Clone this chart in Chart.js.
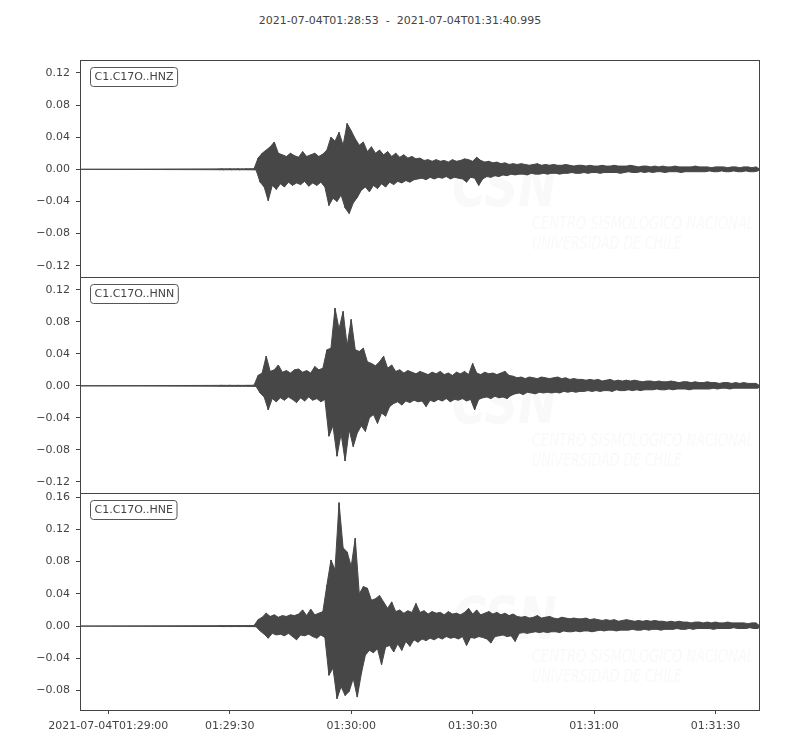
<!DOCTYPE html>
<html>
<head>
<meta charset="utf-8">
<script src="https://cdn.jsdelivr.net/npm/chart.js@4.4.0/dist/chart.umd.min.js"></script>
<style>
  html, body { margin: 0; padding: 0; background: #fff; }
  body { width: 800px; height: 750px; position: relative; overflow: hidden; font-family: "DejaVu Sans", sans-serif; }
  #title { position: absolute; top: 14px; left: 0; width: 800px; text-align: center; font-size: 11px; color: #444; white-space: pre; }
  .panel { position: absolute; left: 0; width: 800px; }
</style>
</head>
<body>
<div id="title">2021-07-04T01:28:53  -  2021-07-04T01:31:40.995</div>
<div class="panel" style="top:58px;height:221px"><canvas id="hnz"></canvas></div>
<div class="panel" style="top:275px;height:220px"><canvas id="hnn"></canvas></div>
<div class="panel" style="top:491px;height:259px"><canvas id="hne"></canvas></div>
<script>
// seconds after 01:28:53; envelope peaks read every second from t = 34 s
const T_START = 0;
const T_END = 167.995;
const ENV_START = 34;

const X_TICKS = [7, 37, 67, 97, 127, 157];
const X_LABELS = ['2021-07-04T01:29:00', '01:29:30', '01:30:00', '01:30:30', '01:31:00', '01:31:30'];

const HNZ_TICKS = [-0.12, -0.08, -0.04, 0, 0.04, 0.08, 0.12];
const HNN_TICKS = [-0.12, -0.08, -0.04, 0, 0.04, 0.08, 0.12];
const HNE_TICKS = [-0.08, -0.04, 0, 0.04, 0.08, 0.12, 0.16];

const HNZ_UP = [0.0005,0.0006,0.0005,0.0006,0.0005,0.0006,0.0005,0.0006,0.0006,0.0008,
 0.014,0.02,0.024,0.028,0.034,0.02,0.018,0.016,0.02,0.017,
 0.015,0.022,0.016,0.018,0.02,0.016,0.019,0.024,0.04,0.035,
 0.046,0.03,0.057,0.048,0.038,0.03,0.034,0.022,0.028,0.02,
 0.024,0.018,0.022,0.016,0.02,0.015,0.018,0.014,0.016,0.013,
 0.014,0.011,0.012,0.01,0.012,0.01,0.011,0.009,0.012,0.01,
 0.011,0.013,0.012,0.01,0.015,0.011,0.009,0.01,0.008,0.009,
 0.007,0.008,0.006,0.007,0.006,0.007,0.006,0.005,0.006,0.007,
 0.005,0.006,0.005,0.006,0.005,0.005,0.006,0.005,0.004,0.005,
 0.005,0.004,0.005,0.004,0.004,0.005,0.004,0.004,0.005,0.004,
 0.004,0.004,0.005,0.004,0.003,0.004,0.004,0.003,0.004,0.003,
 0.004,0.003,0.003,0.004,0.003,0.003,0.003,0.003,0.004,0.003,
 0.003,0.003,0.002,0.003,0.003,0.003,0.002,0.003,0.003,0.002,
 0.003,0.003,0.002,0.003];
const HNZ_LO = [-0.0005,-0.0006,-0.0005,-0.0006,-0.0005,-0.0006,-0.0005,-0.0006,-0.0006,-0.0008,
 -0.016,-0.022,-0.039,-0.02,-0.025,-0.018,-0.022,-0.016,-0.02,-0.017,
 -0.019,-0.015,-0.021,-0.017,-0.02,-0.016,-0.022,-0.045,-0.036,-0.04,
 -0.032,-0.048,-0.055,-0.042,-0.035,-0.026,-0.022,-0.028,-0.02,-0.024,
 -0.018,-0.022,-0.016,-0.019,-0.015,-0.017,-0.014,-0.016,-0.013,-0.012,
 -0.011,-0.013,-0.01,-0.012,-0.01,-0.011,-0.009,-0.012,-0.01,-0.011,
 -0.012,-0.016,-0.01,-0.011,-0.02,-0.012,-0.009,-0.01,-0.008,-0.009,
 -0.007,-0.008,-0.006,-0.007,-0.006,-0.006,-0.007,-0.005,-0.006,-0.006,
 -0.005,-0.006,-0.005,-0.005,-0.006,-0.005,-0.005,-0.004,-0.005,-0.005,
 -0.004,-0.005,-0.004,-0.004,-0.005,-0.004,-0.004,-0.004,-0.004,-0.005,
 -0.004,-0.003,-0.004,-0.004,-0.003,-0.004,-0.003,-0.004,-0.003,-0.003,
 -0.004,-0.003,-0.003,-0.003,-0.004,-0.003,-0.003,-0.003,-0.003,-0.003,
 -0.003,-0.002,-0.003,-0.003,-0.002,-0.003,-0.003,-0.002,-0.003,-0.003,
 -0.002,-0.003,-0.003,-0.002];

const HNN_UP = [0.0005,0.0006,0.0005,0.0006,0.0005,0.0006,0.0005,0.0006,0.0006,0.0008,
 0.013,0.016,0.037,0.018,0.02,0.026,0.017,0.019,0.016,0.02,
 0.021,0.017,0.019,0.016,0.024,0.02,0.022,0.045,0.047,0.097,
 0.071,0.093,0.05,0.083,0.045,0.043,0.047,0.03,0.028,0.025,
 0.03,0.037,0.022,0.026,0.018,0.02,0.016,0.019,0.017,0.015,
 0.018,0.016,0.014,0.017,0.015,0.018,0.014,0.016,0.013,0.017,
 0.015,0.018,0.014,0.028,0.016,0.014,0.017,0.015,0.016,0.014,
 0.016,0.018,0.013,0.012,0.01,0.011,0.009,0.011,0.01,0.009,
 0.011,0.01,0.009,0.01,0.011,0.009,0.01,0.008,0.009,0.008,
 0.008,0.007,0.008,0.007,0.008,0.006,0.007,0.008,0.006,0.007,
 0.006,0.007,0.006,0.007,0.006,0.005,0.006,0.006,0.005,0.006,
 0.005,0.005,0.006,0.005,0.004,0.005,0.005,0.004,0.005,0.004,
 0.004,0.005,0.004,0.004,0.003,0.004,0.004,0.003,0.004,0.003,
 0.004,0.003,0.003,0.003];
const HNN_LO = [-0.0005,-0.0006,-0.0005,-0.0006,-0.0005,-0.0006,-0.0005,-0.0006,-0.0006,-0.0008,
 -0.009,-0.014,-0.03,-0.016,-0.02,-0.015,-0.018,-0.014,-0.017,-0.021,
 -0.015,-0.019,-0.014,-0.018,-0.016,-0.02,-0.017,-0.063,-0.05,-0.088,
 -0.06,-0.094,-0.055,-0.076,-0.059,-0.05,-0.057,-0.04,-0.036,-0.047,
 -0.034,-0.038,-0.026,-0.022,-0.02,-0.024,-0.019,-0.021,-0.018,-0.02,
 -0.019,-0.026,-0.018,-0.02,-0.017,-0.019,-0.016,-0.02,-0.017,-0.018,
 -0.016,-0.019,-0.017,-0.03,-0.017,-0.015,-0.014,-0.016,-0.013,-0.015,
 -0.014,-0.016,-0.012,-0.01,-0.009,-0.011,-0.008,-0.009,-0.01,-0.008,
 -0.009,-0.008,-0.009,-0.008,-0.009,-0.007,-0.008,-0.007,-0.008,-0.007,
 -0.007,-0.006,-0.007,-0.006,-0.007,-0.006,-0.006,-0.007,-0.005,-0.006,
 -0.006,-0.005,-0.006,-0.005,-0.006,-0.005,-0.005,-0.005,-0.004,-0.005,
 -0.005,-0.004,-0.005,-0.004,-0.004,-0.004,-0.005,-0.004,-0.004,-0.004,
 -0.004,-0.004,-0.003,-0.004,-0.003,-0.003,-0.004,-0.003,-0.003,-0.003,
 -0.003,-0.003,-0.003,-0.003];

const HNE_UP = [0.0005,0.0006,0.0005,0.0006,0.0005,0.0006,0.0005,0.0006,0.0006,0.0008,
 0.008,0.011,0.016,0.012,0.014,0.011,0.013,0.012,0.014,0.013,
 0.015,0.02,0.013,0.021,0.014,0.016,0.018,0.051,0.082,0.07,
 0.153,0.097,0.092,0.074,0.109,0.04,0.049,0.047,0.032,0.034,
 0.038,0.03,0.022,0.03,0.018,0.02,0.016,0.019,0.017,0.028,
 0.017,0.019,0.015,0.018,0.016,0.017,0.014,0.018,0.015,0.016,
 0.014,0.017,0.022,0.015,0.02,0.014,0.016,0.018,0.015,0.017,
 0.014,0.016,0.013,0.015,0.012,0.011,0.012,0.01,0.011,0.013,
 0.01,0.011,0.012,0.01,0.009,0.011,0.01,0.009,0.01,0.009,
 0.009,0.01,0.008,0.009,0.008,0.007,0.008,0.007,0.008,0.006,
 0.007,0.008,0.007,0.006,0.007,0.006,0.007,0.006,0.007,0.006,
 0.006,0.005,0.006,0.005,0.006,0.005,0.005,0.004,0.005,0.005,
 0.004,0.005,0.004,0.005,0.004,0.004,0.005,0.004,0.004,0.004,
 0.004,0.003,0.004,0.004];
const HNE_LO = [-0.0005,-0.0006,-0.0005,-0.0006,-0.0005,-0.0006,-0.0005,-0.0006,-0.0006,-0.0008,
 -0.006,-0.01,-0.015,-0.009,-0.011,-0.01,-0.012,-0.009,-0.013,-0.017,
 -0.011,-0.012,-0.01,-0.013,-0.015,-0.011,-0.014,-0.061,-0.052,-0.09,
 -0.075,-0.086,-0.081,-0.065,-0.088,-0.059,-0.036,-0.03,-0.033,-0.028,
 -0.048,-0.026,-0.024,-0.032,-0.022,-0.03,-0.019,-0.025,-0.017,-0.02,
 -0.016,-0.018,-0.015,-0.017,-0.014,-0.016,-0.013,-0.015,-0.014,-0.016,
 -0.013,-0.024,-0.014,-0.015,-0.013,-0.014,-0.016,-0.021,-0.013,-0.012,
 -0.011,-0.013,-0.012,-0.019,-0.009,-0.008,-0.009,-0.008,-0.007,-0.008,
 -0.007,-0.008,-0.007,-0.007,-0.008,-0.006,-0.007,-0.007,-0.006,-0.007,
 -0.006,-0.006,-0.007,-0.006,-0.005,-0.006,-0.005,-0.005,-0.006,-0.005,
 -0.005,-0.005,-0.004,-0.005,-0.005,-0.004,-0.005,-0.004,-0.004,-0.005,
 -0.004,-0.004,-0.004,-0.003,-0.004,-0.004,-0.003,-0.004,-0.003,-0.003,
 -0.003,-0.003,-0.004,-0.003,-0.003,-0.003,-0.003,-0.002,-0.003,-0.003,
 -0.003,-0.002,-0.003,-0.003];

const INK = '#444444';
const TRACE = '#474747';

// upper peaks on whole seconds, lower peaks half a second later; flat before the event
function upperLine(up) {
    const pts = [{ x: T_START, y: 0 }];
    up.forEach((v, i) => pts.push({ x: ENV_START + i, y: v }));
    pts.push({ x: T_END, y: 0 });
    return pts;
}
function lowerLine(lo) {
    const pts = [{ x: T_START, y: 0 }];
    lo.forEach((v, i) => pts.push({ x: ENV_START + i + 0.5, y: v }));
    pts.push({ x: T_END, y: 0 });
    return pts;
}
function zigzag(up, lo) {
    const pts = [];
    up.forEach((v, i) => {
        pts.push({ x: ENV_START + i, y: v });
        pts.push({ x: ENV_START + i + 0.5, y: lo[i] });
    });
    return pts;
}

const fmtY = v => (v < 0 ? '\u2212' : '') + Math.abs(v).toFixed(2);

const framePlugin = {
    id: 'frame',
    beforeDatasetsDraw(chart) {
        // faint CSN watermark
        const { ctx, chartArea: a } = chart;
        ctx.save();
        ctx.fillStyle = '#f9f9f9';
        ctx.font = 'italic bold 58px "DejaVu Sans"';
        ctx.fillText('CSN', a.left + 372, a.top + 146, 105);
        ctx.font = 'italic 17px "DejaVu Sans"';
        ctx.fillText('CENTRO SISMOLÓGICO NACIONAL', a.left + 452, a.top + 169, 222);
        ctx.fillText('UNIVERSIDAD DE CHILE', a.left + 452, a.top + 189, 150);
        ctx.restore();
    },
    afterDraw(chart, args, opts) {
        const { ctx, chartArea: a } = chart;
        ctx.save();
        ctx.strokeStyle = INK;
        ctx.lineWidth = 1;
        ctx.strokeRect(a.left + 0.5, a.top + 0.5, a.right - a.left - 1, a.bottom - a.top);
        // station label box
        ctx.font = '11px "DejaVu Sans"';
        const w = ctx.measureText(opts.label).width + 8;
        const bx = a.left + 10.5, by = a.top + 7.5, bh = 19;
        ctx.beginPath();
        ctx.roundRect(bx, by, w, bh, 3);
        ctx.fillStyle = '#fff';
        ctx.fill();
        ctx.strokeStyle = '#555';
        ctx.stroke();
        ctx.fillStyle = INK;
        ctx.textBaseline = 'middle';
        ctx.fillText(opts.label, bx + 4, by + bh / 2 + 0.5);
        ctx.restore();
    }
};

function createTraceChart(id, label, up, lo, yMin, yMax, yTicks, showX) {
    const ctx = document.getElementById(id).getContext('2d');
    return new Chart(ctx, {
        type: 'line',
        data: {
            datasets: [{
                data: upperLine(up),
                borderColor: TRACE, backgroundColor: TRACE,
                borderWidth: 1, pointRadius: 0, tension: 0,
                fill: '+1'
            }, {
                data: lowerLine(lo),
                borderColor: TRACE,
                borderWidth: 1, pointRadius: 0, tension: 0,
                fill: false
            }, {
                data: zigzag(up, lo),
                borderColor: TRACE,
                borderWidth: 1, pointRadius: 0, tension: 0,
                fill: false
            }]
        },
        options: {
            responsive: true,
            maintainAspectRatio: false,
            animation: false,
            devicePixelRatio: 1,
            layout: { padding: { top: 2, bottom: showX ? 0 : 2, left: 0, right: 40 } },
            scales: {
                x: {
                    type: 'linear', min: T_START, max: T_END, display: showX,
                    afterBuildTicks: s => { s.ticks = X_TICKS.map(v => ({ value: v })); },
                    afterFit: s => {
                        s.paddingLeft = 0; s.paddingRight = 0;
                        if (showX) s.height = 40;
                    },
                    grid: { drawOnChartArea: false, drawTicks: true, tickLength: 4, color: INK },
                    border: { display: false },
                    ticks: {
                        color: INK, font: { family: 'DejaVu Sans', size: 11 }, padding: 6,
                        maxRotation: 0, autoSkip: false,
                        callback: v => X_LABELS[X_TICKS.indexOf(v)]
                    }
                },
                y: {
                    type: 'linear', min: yMin, max: yMax,
                    afterBuildTicks: s => { s.ticks = yTicks.map(v => ({ value: v })); },
                    afterFit: s => { s.width = 80; s.paddingTop = 0; s.paddingBottom = 0; },
                    grid: { drawOnChartArea: false, drawTicks: true, tickLength: 4, color: INK },
                    border: { display: false },
                    ticks: { color: INK, font: { family: 'DejaVu Sans', size: 11 }, padding: 6, callback: fmtY }
                }
            },
            plugins: {
                legend: { display: false },
                tooltip: { enabled: false },
                title: { display: false },
                filler: { propagate: false },
                frame: { label: label }
            }
        },
        plugins: [framePlugin]
    });
}

createTraceChart('hnz', 'C1.C17O..HNZ', HNZ_UP, HNZ_LO, -0.134, 0.136, HNZ_TICKS, false);
createTraceChart('hnn', 'C1.C17O..HNN', HNN_UP, HNN_LO, -0.134, 0.136, HNN_TICKS, false);
createTraceChart('hne', 'C1.C17O..HNE', HNE_UP, HNE_LO, -0.104, 0.165, HNE_TICKS, true);
</script>
</body>
</html>
